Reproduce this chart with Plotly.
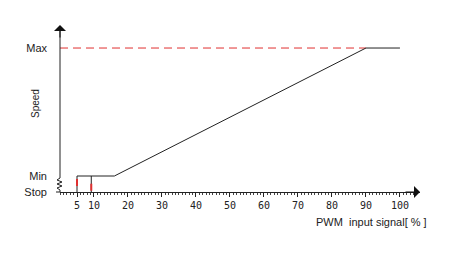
import plotly.graph_objects as go

# data
pwm_curve = [5, 16, 90, 100]
speed_curve = [1, 1, 9, 9]          # Stop=0, Min=1, Max=9
start_marks_x = [5, 9.2]            # vertical start lines
start_marks_y0 = [0, 0]
start_marks_y1 = [1, 1]
red_marks_x = [5, 9.2]
red_marks_y = [0.6, 0.3]
max_dash_x = [0, 90]
max_dash_y = [9, 9]
x_tickvals = [5, 10, 20, 30, 40, 50, 60, 70, 80, 90, 100]
x_ticktext = [str(v) for v in x_tickvals]
y_tickvals = [0, 1, 9]
y_ticktext = ["Stop", "Min", "Max"]

XMAX = 105.9
YMAX = 10.44

W, H = 450, 262
ML, MR, MT, MB = 60, 30, 25, 70
pw, ph = W - ML - MR, H - MT - MB


def px_x(p):
    return (p - ML) / pw


def px_y(p):
    return (H - MB - p) / ph


fig = go.Figure()

fig.add_trace(go.Scatter(x=max_dash_x, y=max_dash_y, mode="lines",
                         line=dict(color="#e03030", width=1, dash="8px,5px"),
                         hoverinfo="skip"))
fig.add_trace(go.Scatter(x=pwm_curve, y=speed_curve, mode="lines",
                         line=dict(color="#222222", width=1), hoverinfo="skip"))
for xv, y0, y1 in zip(start_marks_x, start_marks_y0, start_marks_y1):
    fig.add_trace(go.Scatter(x=[xv, xv], y=[y0, y1], mode="lines",
                             line=dict(color="#222222", width=1), hoverinfo="skip"))
fig.add_trace(go.Scatter(x=red_marks_x, y=red_marks_y, mode="markers",
                         marker=dict(symbol="line-ns", size=5,
                                     line=dict(color="#e03030", width=2)),
                         hoverinfo="skip"))

# y axis line with a break (zigzag) between Stop and Min (paper coords, unclipped)
fig.add_shape(type="line", xref="paper", yref="paper", x0=0, x1=0,
              y0=px_y(178), y1=px_y(30), line=dict(color="#222222", width=1))
zz = [(0, 178), (-3, 180), (2, 182), (-3, 184), (2, 186), (-3, 188), (0, 190), (0, 192)]
path = "M " + " L ".join(f"{px_x(ML + dx):.5f} {px_y(py):.5f}" for dx, py in zz)
fig.add_shape(type="path", xref="paper", yref="paper", path=path,
              line=dict(color="#222222", width=1))
fig.add_shape(type="line", xref="paper", yref="paper", x0=px_x(ML - 4), x1=0,
              y0=0, y1=0, line=dict(color="#222222", width=1))

# arrows
fig.add_annotation(x=0, y=YMAX, xref="x", yref="y", ax=0, ay=14, text="",
                   showarrow=True, arrowhead=1, arrowsize=2, arrowwidth=1,
                   arrowcolor="#111111")
fig.add_annotation(x=XMAX, y=0, xref="x", yref="y", ax=-16, ay=0, text="",
                   showarrow=True, arrowhead=1, arrowsize=2, arrowwidth=1,
                   arrowcolor="#111111")

fig.add_annotation(text="Speed", x=px_x(36), y=px_y(104), xref="paper", yref="paper",
                   xanchor="center", yanchor="middle", showarrow=False, textangle=-90,
                   font=dict(family="Liberation Sans", size=10, color="#222222"))
fig.add_annotation(text="PWM  input signal[ % ]", x=px_x(429), y=px_y(222),
                   xref="paper", yref="paper", xanchor="right", yanchor="middle",
                   showarrow=False,
                   font=dict(family="Liberation Sans", size=11, color="#222222"))

fig.update_layout(
    width=W, height=H,
    margin=dict(l=ML, r=MR, t=MT, b=MB, pad=0),
    plot_bgcolor="white", paper_bgcolor="white",
    showlegend=False,
    xaxis=dict(range=[0, XMAX], showgrid=False, zeroline=False,
               showline=True, linecolor="#222222", linewidth=1,
               tickvals=x_tickvals, ticktext=x_ticktext,
               ticks="outside", ticklen=4, tickcolor="#222222", tickwidth=1,
               minor=dict(tick0=0, dtick=1, ticks="outside", ticklen=2,
                          tickcolor="#444444", tickwidth=1),
               tickfont=dict(family="DejaVu Sans Mono", size=10, color="#222222"),
               fixedrange=True),
    yaxis=dict(range=[0, YMAX], showgrid=False, zeroline=False, showline=False,
               tickvals=y_tickvals, ticktext=y_ticktext, ticks="",
               ticklabelstandoff=12,
               tickfont=dict(family="Liberation Sans", size=11, color="#222222"),
               fixedrange=True),
)
for tr in fig.data:
    tr.cliponaxis = False

fig.write_html("out.html")
